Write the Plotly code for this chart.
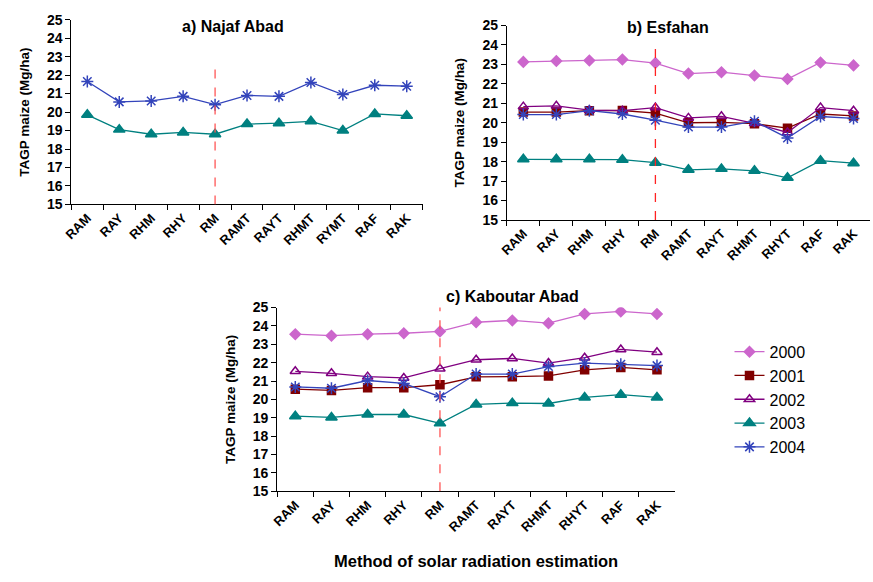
import plotly.graph_objects as go

cats_a = ["RAM", "RAY", "RHM", "RHY", "RM", "RAMT", "RAYT", "RHMT", "RYMT", "RAF", "RAK"]
cats_bc = ["RAM", "RAY", "RHM", "RHY", "RM", "RAMT", "RAYT", "RHMT", "RHYT", "RAF", "RAK"]

# a) Najaf Abad
a_2003 = [19.85, 19.05, 18.8, 18.9, 18.8, 19.35, 19.4, 19.5, 19.0, 19.9, 19.8]
a_2004 = [21.65, 20.55, 20.6, 20.85, 20.4, 20.9, 20.85, 21.6, 20.95, 21.45, 21.4]

# b) Esfahan
b_2000 = [23.13, 23.18, 23.2, 23.25, 23.07, 22.53, 22.6, 22.43, 22.25, 23.1, 22.95]
b_2001 = [20.55, 20.55, 20.62, 20.63, 20.5, 20.0, 20.02, 19.95, 19.72, 20.45, 20.35]
b_2002 = [20.83, 20.87, 20.65, 20.62, 20.78, 20.25, 20.33, 19.97, 19.5, 20.78, 20.62]
b_2003 = [18.12, 18.12, 18.12, 18.1, 17.95, 17.58, 17.63, 17.53, 17.17, 18.05, 17.92]
b_2004 = [20.42, 20.42, 20.62, 20.45, 20.13, 19.78, 19.78, 20.08, 19.22, 20.32, 20.22]

# c) Kaboutar Abad
c_2000 = [23.55, 23.47, 23.55, 23.6, 23.7, 24.2, 24.3, 24.15, 24.65, 24.79, 24.65]
c_2001 = [20.56, 20.49, 20.64, 20.64, 20.8, 21.23, 21.24, 21.28, 21.61, 21.74, 21.61]
c_2002 = [21.53, 21.42, 21.24, 21.17, 21.67, 22.16, 22.23, 21.98, 22.27, 22.72, 22.57]
c_2003 = [19.09, 19.02, 19.18, 19.18, 18.7, 19.73, 19.8, 19.78, 20.11, 20.26, 20.11]
c_2004 = [20.68, 20.61, 21.03, 20.87, 20.15, 21.38, 21.38, 21.79, 21.97, 21.91, 21.84]

years = ["2000", "2001", "2002", "2003", "2004"]
styles = {
    "2000": dict(color="#CC66CC", symbol="diamond", size=8, lw=1.3),
    "2001": dict(color="#800000", symbol="square", size=8, lw=1.3),
    "2002": dict(color="#800080", symbol="triangle-up-open", size=9, lw=1.3),
    "2003": dict(color="#008080", symbol="triangle-up", size=10, lw=1.3),
    "2004": dict(color="#3344BB", symbol="asterisk-open", size=10, lw=1.3),
}

FONT = "Liberation Sans, Arial, sans-serif"
fig = go.Figure()

def add(x, y, yr, xa, ya, show):
    s = styles[yr]
    fig.add_trace(go.Scatter(
        x=x, y=y, name=yr, mode="lines+markers", xaxis=xa, yaxis=ya,
        showlegend=show, legendrank=int(yr),
        line=dict(color=s["color"], width=s["lw"]),
        marker=dict(symbol=s["symbol"], size=s["size"], color=s["color"],
                    line=dict(color=s["color"], width=1.5)),
    ))

add(cats_a, a_2003, "2003", "x", "y", False)
add(cats_a, a_2004, "2004", "x", "y", False)
for yr, vals in zip(years, [b_2000, b_2001, b_2002, b_2003, b_2004]):
    add(cats_bc, vals, yr, "x2", "y2", False)
for yr, vals in zip(years, [c_2000, c_2001, c_2002, c_2003, c_2004]):
    add(cats_bc, vals, yr, "x3", "y3", True)

def xax(domain, anchor):
    return dict(domain=domain, anchor=anchor, type="category", range=[-0.5, 10.5],
                tickson="boundaries", ticks="outside", ticklen=5, tickcolor="black",
                showline=True, linecolor="black", linewidth=1, showgrid=False,
                tickangle=-45, tickfont=dict(family=FONT, size=13, color="black", weight="bold"),
                zeroline=False)

def yax(domain, anchor):
    return dict(domain=domain, anchor=anchor, range=[15, 25], dtick=1,
                ticks="outside", ticklen=5, tickcolor="black",
                showline=True, linecolor="black", linewidth=1, showgrid=False,
                tickfont=dict(family=FONT, size=14, color="black", weight="bold"),
                title=dict(text="TAGP maize (Mg/ha)", standoff=14,
                           font=dict(family=FONT, size=13.5, color="black", weight="bold")),
                zeroline=False)

fig.update_layout(
    width=873, height=582, margin=dict(l=0, r=0, t=0, b=0),
    paper_bgcolor="white", plot_bgcolor="white",
    font=dict(family=FONT, color="black"),
    xaxis=xax([63/873, 418/873], "y"),
    yaxis=yax([1-202/582, 1-12/582], "x"),
    xaxis2=xax([503/873, 870/873], "y2"),
    yaxis2=yax([1-218/582, 1-18/582], "x2"),
    xaxis3=xax([271/873, 673/873], "y3"),
    yaxis3=yax([1-497/582, 1-308/582], "x3"),
    legend=dict(x=728/873, y=1-336/582, xanchor="left", yanchor="top",
                font=dict(family=FONT, size=16, color="black"),
                bgcolor="rgba(0,0,0,0)", tracegroupgap=0),
)

# dashed separators at RM
fig.add_shape(type="line", xref="x", yref="y", x0=4, x1=4, y0=15, y1=22.45,
              line=dict(color="#FF5555", width=1.3, dash="dash"))
fig.add_shape(type="line", xref="x2", yref="y2", x0=4, x1=4, y0=15, y1=24.05,
              line=dict(color="#FF2222", width=1.3, dash="dash"))
fig.add_shape(type="line", xref="x3", yref="y3", x0=4, x1=4, y0=15, y1=25.9,
              line=dict(color="#FF5555", width=1.3, dash="dash"))

def title(text, x, y, xanchor="center", size=16):
    fig.add_annotation(text=text, x=x/873, y=1-y/582, xref="paper", yref="paper",
                       xanchor=xanchor, yanchor="middle", showarrow=False,
                       font=dict(family=FONT, size=size, color="black", weight="bold"))

title("a) Najaf Abad", 226, 19)
title("b) Esfahan", 666, 20)
title("c) Kaboutar Abad", 440, 297, "left")
title("Method of solar radiation estimation", 472, 569, size=16.5)

fig.write_html("out.html")
